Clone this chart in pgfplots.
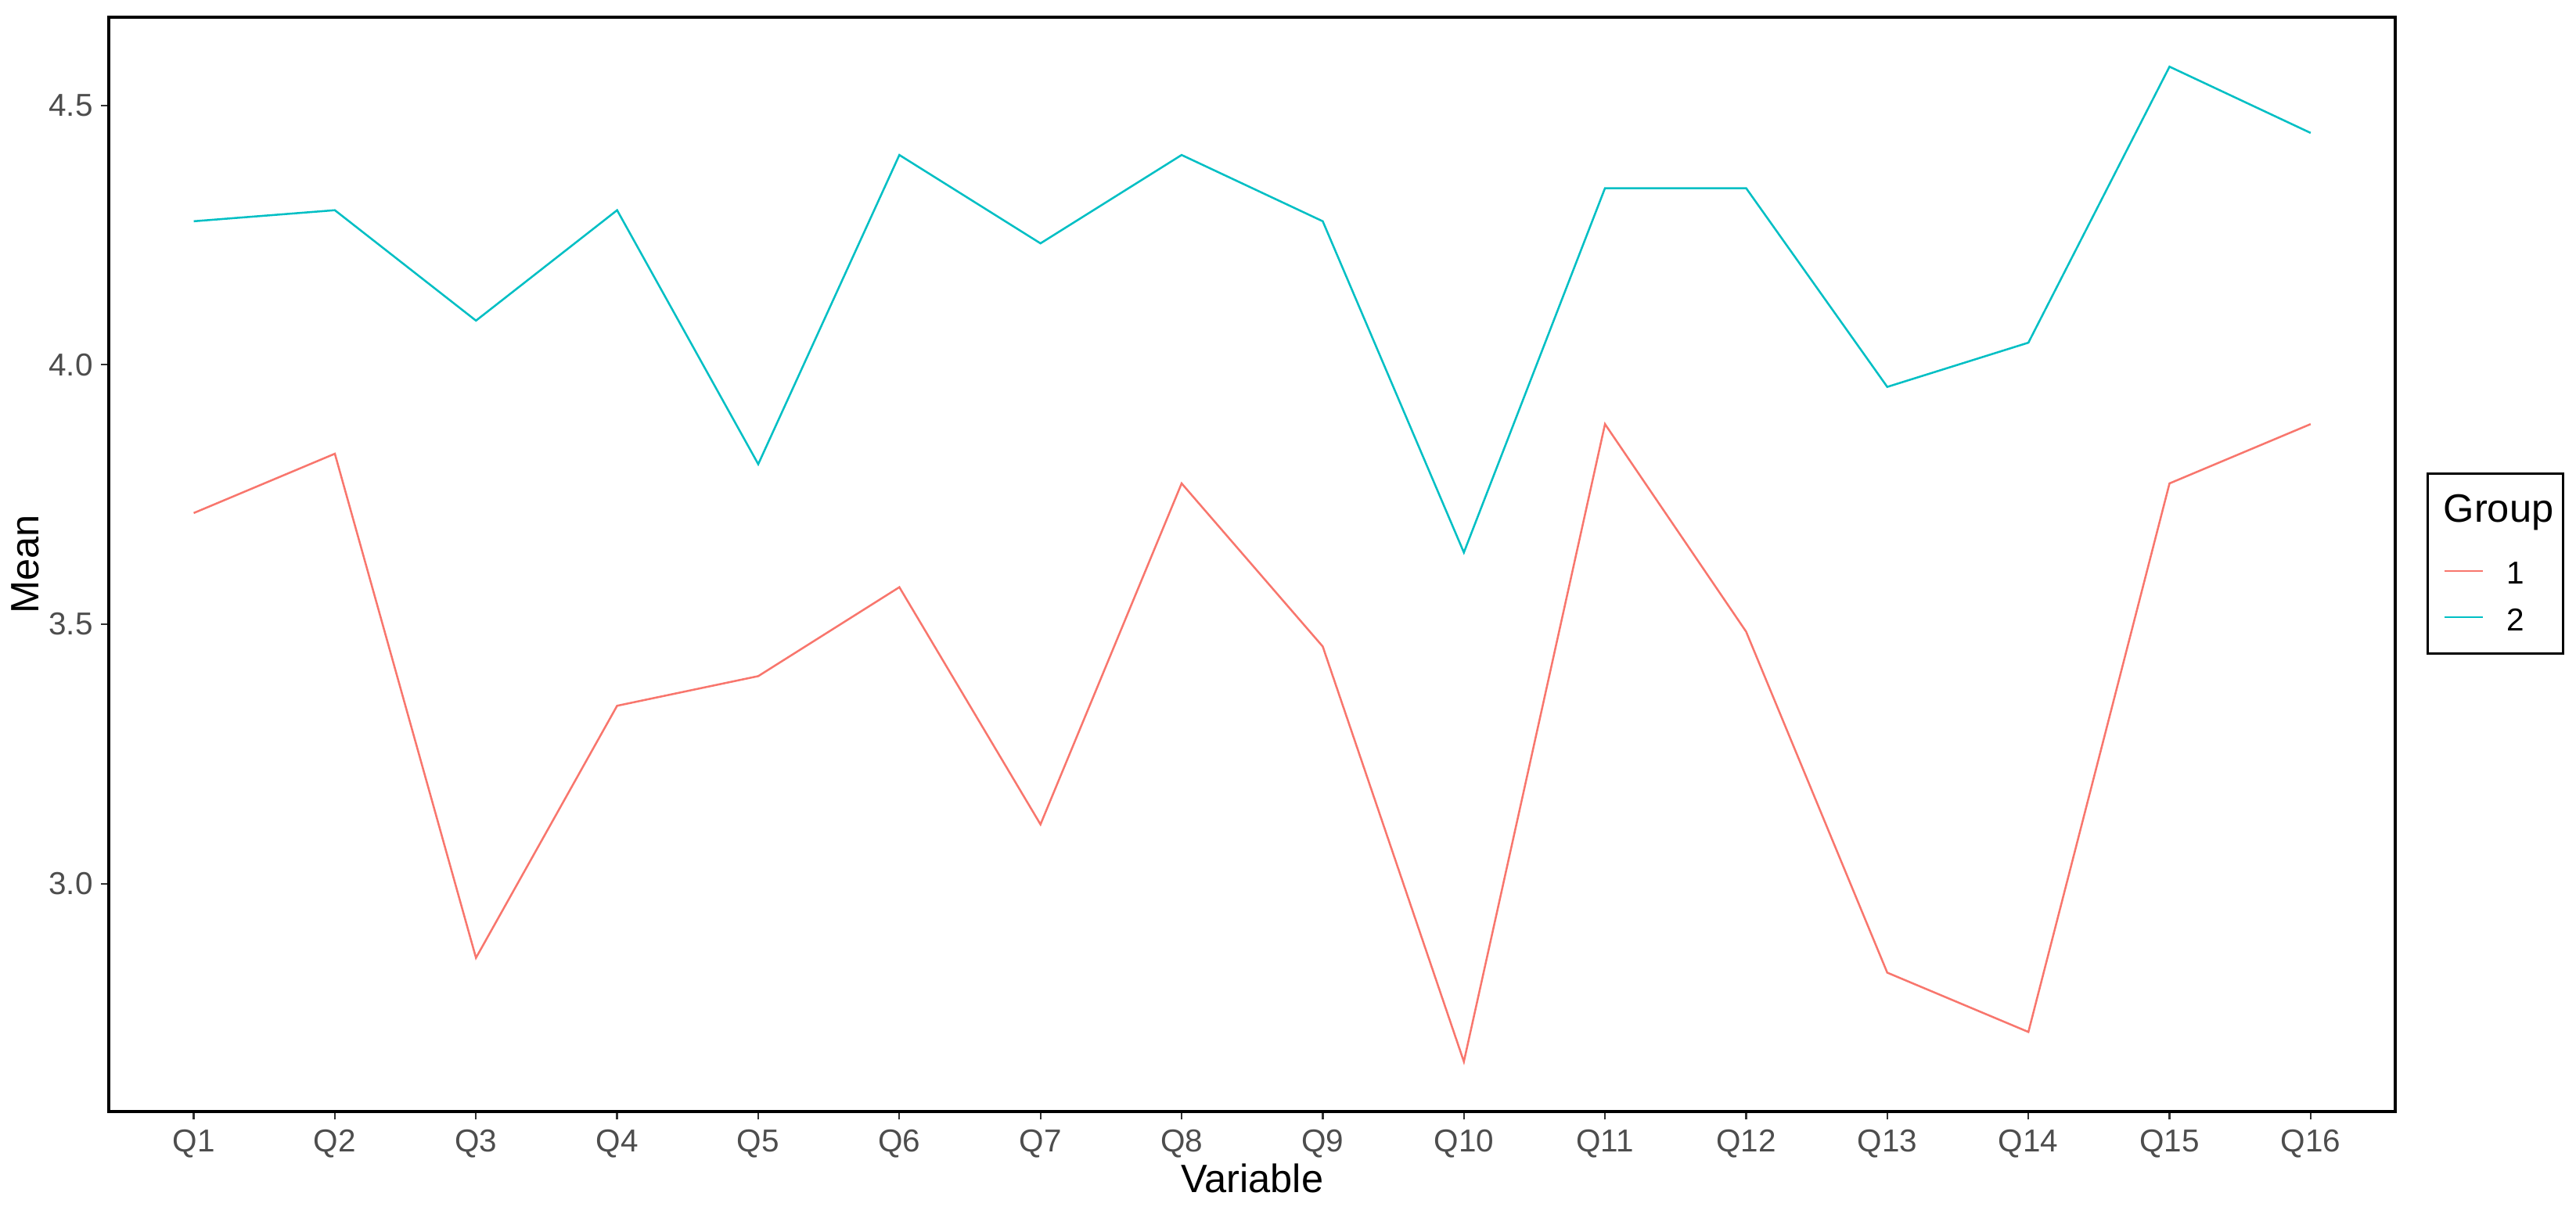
\documentclass[border=0pt]{standalone}
\usepackage{pgfplots}
\pgfplotsset{compat=1.18}
\usepackage{fontspec}
\setmainfont{Liberation Sans}
\definecolor{gred}{HTML}{F8766D}
\definecolor{gcyan}{HTML}{00BFC4}
\definecolor{grayA}{HTML}{4D4D4D}
\definecolor{grayB}{HTML}{333333}
\begin{document}
\begin{tikzpicture}
\path[use as bounding box] (-30.3pt,-28.3pt) rectangle (685.4pt,308.9pt);
\begin{axis}[
  scale only axis, width=635.2pt, height=304.2pt,
  at={(0pt,0pt)}, anchor=south west,
  xmin=0.4, xmax=16.6, ymin=2.5612, ymax=4.6704,
  xtick={1,2,3,4,5,6,7,8,9,10,11,12,13,14,15,16},
  xticklabels={Q1,Q2,Q3,Q4,Q5,Q6,Q7,Q8,Q9,Q10,Q11,Q12,Q13,Q14,Q15,Q16},
  ytick={3,3.5,4,4.5},
  yticklabels={3.0,3.5,4.0,4.5},
  xtick pos=left, ytick pos=left,
  tick align=outside, major tick length=2.3pt,
  every tick/.style={grayB, line width=0.5pt},
  axis line style={black, line width=0.9pt},
  ticklabel style={font=\fontsize{8.8}{10}\selectfont, text=grayA},
  xticklabel style={anchor=base, inner sep=0pt, yshift=-9pt},
  yticklabel style={anchor=east, inner sep=0pt, xshift=-2pt},
  xlabel={Variable}, ylabel={Mean},
  label style={font=\fontsize{11}{13}\selectfont},
  xlabel style={at={(axis description cs:0.5,0)}, anchor=base, yshift=-22.6pt, inner sep=0pt},
  ylabel style={at={(axis description cs:-0.03086,0.5)}, anchor=base, inner sep=0pt},
]
\addplot[gred, line width=0.55pt] coordinates {
(1,3.7143) (2,3.8286) (3,2.8571) (4,3.3429) (5,3.4000) (6,3.5714) (7,3.1143) (8,3.7714)
(9,3.4571) (10,2.6571) (11,3.8857) (12,3.4857) (13,2.8286) (14,2.7143) (15,3.7714) (16,3.8857)};
\addplot[gcyan, line width=0.55pt] coordinates {
(1,4.2766) (2,4.2979) (3,4.0851) (4,4.2979) (5,3.8085) (6,4.4043) (7,4.2340) (8,4.4043)
(9,4.2766) (10,3.6383) (11,4.3404) (12,4.3404) (13,3.9574) (14,4.0426) (15,4.5745) (16,4.4468)};
\end{axis}
\draw[black, line width=0.65pt] (644.1pt,127.2pt) rectangle (681.9pt,177.2pt);
\node[anchor=base west, inner sep=0pt, font=\fontsize{11}{13}\selectfont] at (648.4pt,163.7pt) {Group};
\draw[gred, line width=0.55pt] (648.9pt,150.2pt) -- (659.5pt,150.2pt);
\node[anchor=base west, inner sep=0pt, font=\fontsize{8.8}{10}\selectfont] at (666pt,146.5pt) {1};
\draw[gcyan, line width=0.55pt] (648.9pt,137.4pt) -- (659.5pt,137.4pt);
\node[anchor=base west, inner sep=0pt, font=\fontsize{8.8}{10}\selectfont] at (666pt,133.5pt) {2};
\end{tikzpicture}
\end{document}
